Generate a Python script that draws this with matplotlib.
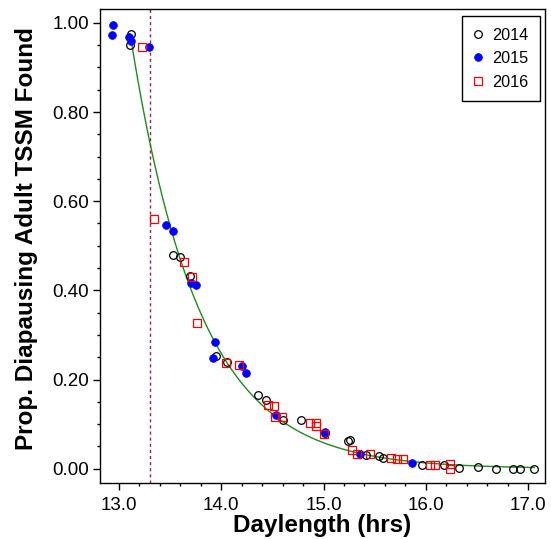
import numpy as np
import matplotlib
matplotlib.use("Agg")
import matplotlib.pyplot as plt
from matplotlib.ticker import MultipleLocator, FormatStrFormatter

plt.rcParams['font.family'] = ['Liberation Sans', 'DejaVu Sans']

# ---- data ----
x2014 = [13.117, 13.11, 13.525, 13.596, 13.69, 13.95, 14.06, 14.362, 14.434, 14.606,
         14.776, 15.01, 15.24, 15.258, 15.42, 15.545, 15.584, 15.965, 16.177, 16.32,
         16.51, 16.685, 16.85, 16.92, 17.057]
y2014 = [0.974, 0.951, 0.480, 0.475, 0.433, 0.252, 0.239, 0.166, 0.155, 0.110,
         0.110, 0.080, 0.062, 0.064, 0.031, 0.028, 0.025, 0.009, 0.009, 0.002,
         0.004, 0.0, 0.0, 0.0, 0.0]

x2015 = [12.94, 12.935, 13.10, 13.117, 13.293, 13.456, 13.531, 13.704, 13.753, 13.94,
         13.92, 14.20, 14.24, 14.54, 15.014, 15.356, 15.861]
y2015 = [0.996, 0.972, 0.969, 0.960, 0.945, 0.546, 0.534, 0.416, 0.411, 0.284,
         0.248, 0.230, 0.215, 0.121, 0.083, 0.032, 0.012]

x2016 = [13.225, 13.345, 13.64, 13.71, 13.76, 14.05, 14.17, 14.46, 14.52, 14.525,
         14.59, 14.867, 14.93, 14.93, 15.0, 15.275, 15.33, 15.453, 15.656, 15.715,
         15.78, 16.04, 16.092, 16.235, 16.235]
y2016 = [0.945, 0.560, 0.463, 0.430, 0.327, 0.237, 0.232, 0.142, 0.141, 0.115,
         0.115, 0.102, 0.103, 0.096, 0.077, 0.041, 0.032, 0.0325, 0.024, 0.022,
         0.021, 0.009, 0.009, 0.010, 0.0]

# fitted exponential model: y = A * exp(-k * (x - 13))
fit_A = 1.148
fit_k = 1.49
fit_xmin, fit_xmax = 13.11, 17.06
critical_daylength = 13.3

xticks = [13.0, 14.0, 15.0, 16.0, 17.0]
yticks = [0.0, 0.2, 0.4, 0.6, 0.8, 1.0]

# ---- figure ----
fig = plt.figure(figsize=(5.51, 5.39), dpi=100)
ax = fig.add_axes([100/551, 1-483/539, 445/551, 474/539])

ax.axvline(critical_daylength, color='#B8163F', lw=1.0, ls=(0, (2.2, 2.2)), zorder=1)

xf = np.linspace(fit_xmin, fit_xmax, 300)
ax.plot(xf, fit_A*np.exp(-fit_k*(xf-13.0)), color='#1E8C1E', lw=1.0, zorder=2)

ax.plot(x2014, y2014, ls='none', marker='o', ms=5.5, mfc='none', mec='black', mew=0.9,
        label='2014', zorder=3)
ax.plot(x2015, y2015, ls='none', marker='o', ms=5.5, mfc='#0000FF', mec='#0000FF', mew=0.6,
        label='2015', zorder=4)
ax.plot(x2016, y2016, ls='none', marker='s', ms=5.5, mfc='none', mec='#FF0000', mew=0.9,
        label='2016', zorder=5)

ax.set_xlim(12.815, 17.165)
ax.set_ylim(-0.032, 1.031)
ax.set_xticks(xticks)
ax.set_yticks(yticks)
ax.xaxis.set_major_formatter(FormatStrFormatter('%.1f'))
ax.yaxis.set_major_formatter(FormatStrFormatter('%.2f'))
ax.xaxis.set_minor_locator(MultipleLocator(0.2))
ax.yaxis.set_minor_locator(MultipleLocator(0.05))
ax.tick_params(which='major', direction='out', length=5, width=1, labelsize=13.5, pad=3)
ax.tick_params(which='minor', direction='out', length=2.5, width=1)
ax.tick_params(axis='x', which='major', pad=5)
for s in ax.spines.values():
    s.set_linewidth(1.0)
    s.set_color('black')

fig.text(27/551, 1-239/539, 'Prop. Diapausing Adult TSSM Found', rotation=90,
         ha='center', va='center', fontsize=17.5, fontweight='bold')
fig.text(322/551, 1-532/539, 'Daylength (hrs)', ha='center', va='baseline',
         fontsize=17.5, fontweight='bold')

leg = ax.legend(loc='upper right', bbox_to_anchor=(540/551, 1-16/539),
                bbox_transform=fig.transFigure, borderaxespad=0, fontsize=11.7,
                fancybox=False, edgecolor='black', framealpha=1, numpoints=1,
                handlelength=0.5, handletextpad=0.6, labelspacing=0.52, borderpad=0.72)
leg.get_frame().set_linewidth(1.0)

fig.savefig('out.png', dpi=100)
